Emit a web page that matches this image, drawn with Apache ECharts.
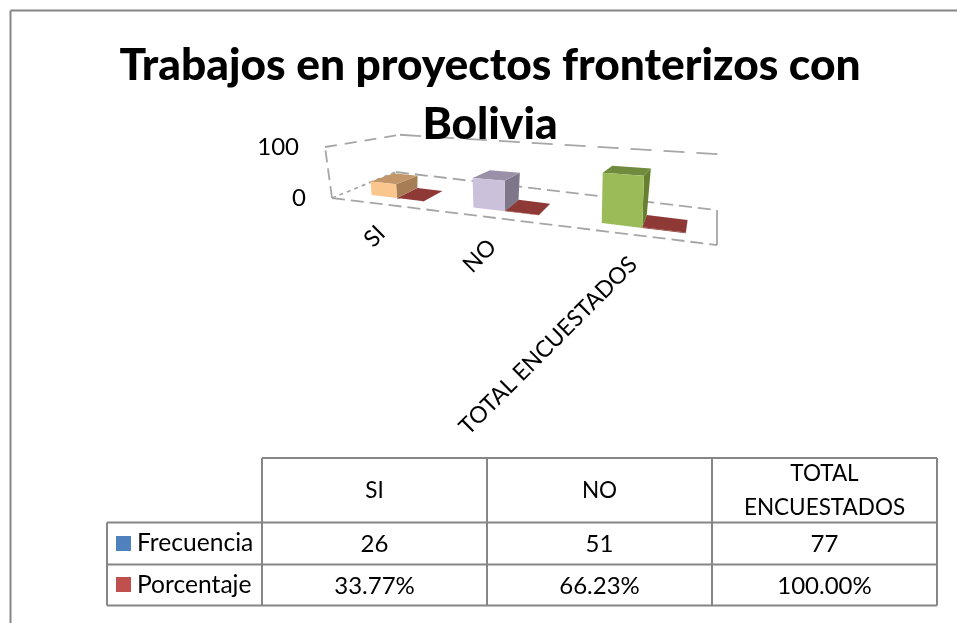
<!DOCTYPE html>
<html>
<head>
<meta charset="utf-8">
<style>html,body{margin:0;padding:0;background:#fff}#c{width:957px;height:623px}</style>
<script src="https://cdn.jsdelivr.net/npm/echarts@6/dist/echarts.min.js"></script>
</head>
<body>
<div id="c"></div>
<script>
const titleText = 'Trabajos en proyectos fronterizos con\nBolivia';
const categories = ['SI', 'NO', 'TOTAL ENCUESTADOS'];
const headerLabels = ['SI', 'NO', 'TOTAL\nENCUESTADOS'];
const frecuencia = [26, 51, 77];
const porcentaje = [33.77, 66.23, 100.00];
const yTicks = [0, 100];

const FONT = 'Lato, Carlito, Calibri, sans-serif';
const GRID = {left: 332, top: 147, width: 385, height: 51};
const FLOOR = {fl: [332, 198], fr: [717, 245], bl: [396, 172], br: [716, 210]};
const LEAN = {fl: -7, fr: 2, bl: 4, br: 10};
const PERSP = 0.3, FADE_L = 0.27, FADE_R = 0.24, BAR_D0 = 0.23, BAR_D1 = 0.6, BAR_W = 0.27, BAR_SHIFT = 0.05, BAR_GAIN = 1.05;
const WALL = '#a6a6a6';
const faces = [
  {front: '#fbc58e', top: '#c3966a', side: '#a67d55'},
  {front: '#ccc1da', top: '#9a90a8', side: '#7f7789'},
  {front: '#9bbb59', top: '#708b3e', side: '#67802f'}
];
const RED = '#8f3937';

const lerp = (a, b, t) => a + (b - a) * t;
// pixel coordinate from the hidden axes + depth -> perspective point
function project(p, d, gain) {
  const u = (p[0] - GRID.left) / GRID.width;
  const v = (GRID.top + GRID.height - p[1]) / GRID.height;
  const s = u * (1 - PERSP) / (1 - PERSP * u);
  const fx = lerp(FLOOR.fl[0], FLOOR.fr[0], s), fy = lerp(FLOOR.fl[1], FLOOR.fr[1], s);
  const bx = lerp(FLOOR.bl[0], FLOOR.br[0], s), by = lerp(FLOOR.bl[1], FLOOR.br[1], s);
  const lean = lerp(lerp(LEAN.fl, LEAN.fr, s), lerp(LEAN.bl, LEAN.br, s), d);
  const h = v * GRID.height / (1 - PERSP * u) * (1 - lerp(FADE_L, FADE_R, s) * d) * (gain || 1);
  return [lerp(fx, bx, d) + lean * v, lerp(fy, by, d) - h];
}
const poly = (pts, fill) => ({type: 'polygon', shape: {points: pts}, style: {fill}});
const seg = (a, b, dash, width) => ({type: 'line', shape: {x1: a[0], y1: a[1], x2: b[0], y2: b[1]},
  style: {stroke: WALL, lineWidth: width || 1.8, lineDash: dash, fill: null}});

function box(api, i, value, from, to, colors) {
  const c0 = api.coord([i, 0]), c1 = api.coord([i, value]), band = api.size([1, 0])[0];
  const xa = c0[0] + (from + BAR_SHIFT) * band, xb = c0[0] + (to + BAR_SHIFT) * band;
  const P = (x, top, d) => project([x, top ? c1[1] : c0[1]], d, BAR_GAIN);
  const children = [
    poly([P(xb, 0, BAR_D0), P(xb, 0, BAR_D1), P(xb, 1, BAR_D1), P(xb, 1, BAR_D0)], colors.side),
    poly([P(xa, 1, BAR_D0), P(xb, 1, BAR_D0), P(xb, 1, BAR_D1), P(xa, 1, BAR_D1)], colors.top),
    poly([P(xa, 0, BAR_D0), P(xb, 0, BAR_D0), P(xb, 1, BAR_D0), P(xa, 1, BAR_D0)], colors.front)
  ];
  return {type: 'group', children};
}

const gridLines = (params, api) => {
  const val = api.value(0);
  const y = api.coord([0, val])[1];
  const L = GRID.left, R = GRID.left + GRID.width;
  const kids = [];
  const front = project([L, y], 0), back = project([L, y], 1), right = project([R, y], 1);
  const longDash = val > 0 ? [21, 12] : [13, 6];
  kids.push(seg(front, back, val > 0 ? [12, 8] : [4, 4]));
  kids.push(seg(back, right, longDash));
  if (val === 0) {
    const fr = project([R, y], 0);
    kids.push(seg(front, fr, [13, 6]));
    kids.push(seg(fr, [fr[0], right[1]], null));
    const top = project([L, api.coord([0, 100])[1]], 0);
    kids.push(seg(front, top, [12, 6]));
  }
  kids.push({type: 'text', x: front[0] - 26, y: front[1], style: {
    text: String(val), font: '24px ' + FONT, fill: '#000', align: 'right', verticalAlign: 'middle'}});
  return {type: 'group', children: kids};
};

const option = {
  animation: false,
  backgroundColor: '#fff',
  title: {
    text: titleText, left: 485, top: 31, textAlign: 'center',
    textStyle: {fontFamily: FONT, fontSize: 44.3, fontWeight: 900, color: '#000', lineHeight: 59}
  },
  grid: {left: GRID.left, top: GRID.top, width: GRID.width, height: GRID.height},
  xAxis: {type: 'category', data: categories, show: false},
  yAxis: {type: 'value', min: 0, max: 100, interval: 100, show: false},
  series: [
    {type: 'custom', name: 'Rejilla', z: 1, silent: true, clip: false, renderItem: gridLines,
     data: yTicks.map(v => [v]), encode: {y: 0}},
    {type: 'custom', name: 'Etiquetas', z: 2, silent: true, clip: false,
     data: categories.map((c, i) => [i, 0]),
     renderItem: (params, api) => {
       const i = params.dataIndex, p = project(api.coord([i, 0]), 0);
       return {type: 'text', x: p[0] + 2, y: p[1] + 26, rotation: Math.PI / 4, style: {
         text: categories[i], font: '23px ' + FONT, fill: '#000', align: 'right', verticalAlign: 'middle'}};
     }},
    {type: 'custom', name: 'Porcentaje', z: 3, silent: true, clip: false,
     data: porcentaje.map((v, i) => [i, v / 100]),
     renderItem: (params, api) => box(api, api.value(0), api.value(1), 0, BAR_W,
       {front: RED, top: RED, side: RED})},
    {type: 'custom', name: 'Frecuencia', z: 4, silent: true, clip: false,
     data: frecuencia.map((v, i) => [i, v]),
     renderItem: (params, api) => box(api, api.value(0), api.value(1), -BAR_W, 0, faces[params.dataIndex])}
  ],
  graphic: {elements: buildTable()}
};

function buildTable() {
  const xs = [107, 262, 487, 712, 937], ys = [458, 522.5, 564.5, 605.5];
  const line = '#868686', out = [];
  const L = (x1, y1, x2, y2) => out.push({type: 'line', z: 10, silent: true,
    shape: {x1, y1, x2, y2}, style: {stroke: line, lineWidth: 2}});
  // outer chart frame
  L(10.5, 623, 10.5, 10.5); L(10.5, 10.5, 957, 10.5);
  // table
  L(xs[1], ys[0], xs[4], ys[0]);
  ys.slice(1).forEach(y => L(xs[0], y, xs[4], y));
  L(xs[0], ys[1], xs[0], ys[3]);
  xs.slice(1).forEach(x => L(x, ys[0], x, ys[3]));
  const T = (text, x, y, align, size, lh) => out.push({type: 'text', z: 11, silent: true, x, y, style: {
    text, font: size + 'px ' + FONT, fill: '#000', align: align || 'center', verticalAlign: 'middle', lineHeight: lh || 34}});
  const cx = i => (xs[i + 1] + xs[i + 2]) / 2;
  headerLabels.forEach((t, i) => T(t, cx(i), (ys[0] + ys[1]) / 2, 'center', 22.5));
  frecuencia.forEach((v, i) => T(String(v), cx(i), (ys[1] + ys[2]) / 2 + 1, 'center', 24));
  porcentaje.forEach((v, i) => T(v.toFixed(2) + '%', cx(i), (ys[2] + ys[3]) / 2 + 1, 'center', 24));
  const S = (y, fill) => out.push({type: 'rect', z: 11, silent: true, shape: {x: 116, y, width: 15, height: 15}, style: {fill}});
  S(536, '#4f81bd'); S(577, '#c0504d');
  T('Frecuencia', 137, (ys[1] + ys[2]) / 2, 'left', 24.6);
  T('Porcentaje', 137, (ys[2] + ys[3]) / 2, 'left', 24.6);
  return out;
}

echarts.init(document.getElementById('c'), null, {renderer: 'canvas'}).setOption(option);
</script>
</body>
</html>
